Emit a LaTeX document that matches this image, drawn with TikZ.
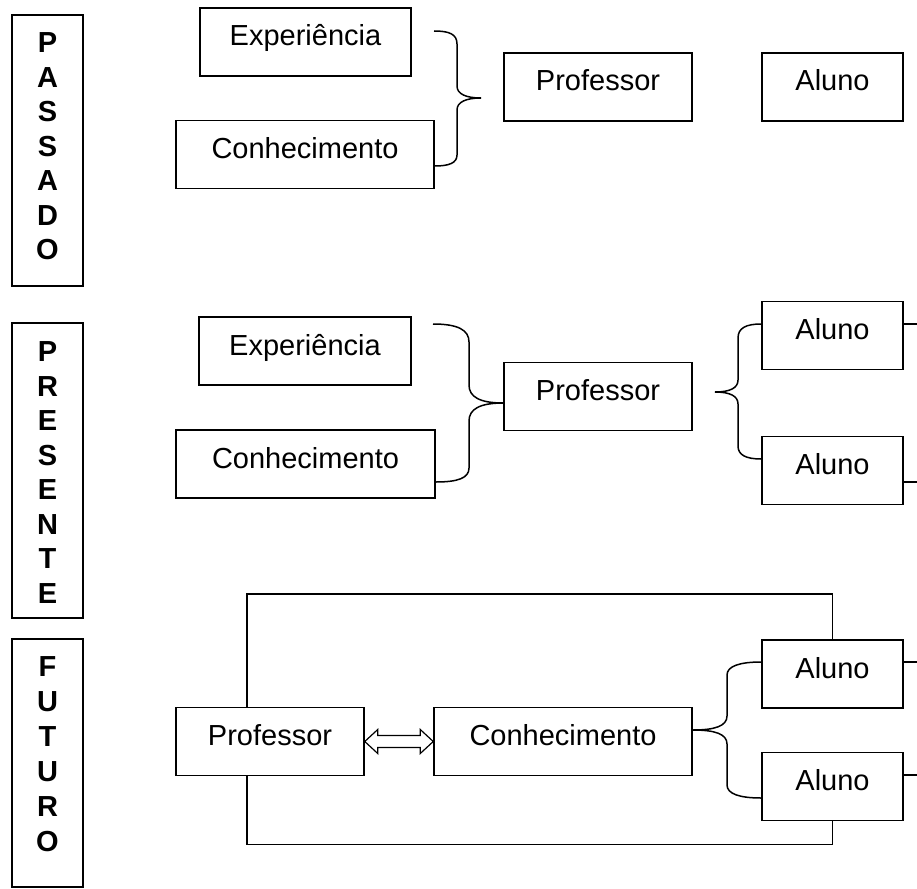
\documentclass[tikz,border=0pt]{standalone}
\usepackage{fontspec}
\setmainfont{Liberation Sans}

\begin{document}
\begin{tikzpicture}[x=1pt, y=-1pt, line width=1.5pt,
  caixa/.style={draw, inner sep=0pt, minimum height=68pt, text height=24pt, text depth=16pt, font=\fontsize{29}{35}\selectfont},
  tempo/.style={draw, inner sep=0pt, minimum width=71pt},
  letra/.style={inner sep=0pt, font=\fontsize{29}{35}\selectfont\bfseries}]
\useasboundingbox (0,0) rectangle (917,888);

\node[tempo, minimum height=271pt] (passado) at (47.5,150.5) {};
\node[tempo, minimum height=295pt] (presente) at (47.5,470.5) {};
\node[tempo, minimum height=248pt] (futuro) at (47.5,763) {};
\foreach \l [count=\i] in {P,A,S,S,A,D,O}
  \node[letra] (pas\i) at (47.5, 8.5+34.5*\i) {\l};
\foreach \l [count=\i] in {P,R,E,S,E,N,T,E}
  \node[letra] (pre\i) at (47.5, 317.5+34.5*\i) {\l};
\foreach \l [count=\i] in {F,U,T,U,R,O}
  \node[letra] (fut\i) at (47.5, 632+35*\i) {\l};

\node[caixa, minimum width=211pt] (exp1) at (305.5,42) {Experiência};
\node[caixa, minimum width=258pt] (con1) at (305,154.5) {Conhecimento};
\node[caixa, minimum width=188pt] (prof1) at (598,87) {Professor};
\node[caixa, minimum width=141pt] (alu1) at (832.5,87) {Aluno};
\coordinate (ch1) at (434,31);
\coordinate (pt1) at (481,98);
\draw (ch1) .. controls (449,31) and (457,34) .. (457,44) -- (457,86)
  .. controls (457,94) and (466,98) .. (pt1)
  .. controls (466,98) and (457,102) .. (457,110) -- (457,155)
  .. controls (457,163) and (449,166) .. ([yshift=-11.5pt]con1.east);

\node[caixa, minimum width=212pt] (exp2) at (305,351) {Experiência};
\node[caixa, minimum width=259pt] (con2) at (305.5,464) {Conhecimento};
\node[caixa, minimum width=188pt] (prof2) at (598,396.5) {Professor};
\node[caixa, minimum width=141pt] (alu2a) at (832.5,335.5) {Aluno};
\node[caixa, minimum width=141pt] (alu2b) at (832.5,470.5) {Aluno};
\coordinate (ch2) at (433,324);
\coordinate (pt2) at (715,392);
\coordinate (s2a) at (917,324);
\coordinate (s2b) at (917,482);
\draw (ch2) .. controls (458,324) and (469,330) .. (469,342) -- (469,385)
  .. controls (469,397) and (480,403) .. ([yshift=-6.5pt]prof2.west)
  .. controls (480,403) and (469,409) .. (469,421) -- (469,468)
  .. controls (469,478) and (458,482) .. ([yshift=-18pt]con2.east);
\draw ([yshift=11.5pt]alu2a.west) .. controls (746,324) and (738,328) .. (738,338) -- (738,380)
  .. controls (738,388) and (730,392) .. (pt2)
  .. controls (730,392) and (738,396) .. (738,404) -- (738,446)
  .. controls (738,455) and (746,459) .. ([yshift=11.5pt]alu2b.west);
\draw ([yshift=11.5pt]alu2a.east) -- (s2a);
\draw ([yshift=-11.5pt]alu2b.east) -- (s2b);

\node[caixa, minimum width=188pt] (prof3) at (270,741.5) {Professor};
\node[caixa, minimum width=258pt] (con3) at (563,741.5) {Conhecimento};
\node[caixa, minimum width=141pt] (alu3a) at (832.5,674) {Aluno};
\node[caixa, minimum width=141pt] (alu3b) at (832.5,786.5) {Aluno};
\coordinate (s3a) at (917,662);
\coordinate (s3b) at (917,775);
\draw[line width=1.2pt, fill=white] (prof3.east) -- ++(13,-12) -- ++(0,6)
  -- ([xshift=-13pt,yshift=6pt]con3.west) -- ++(0,-6) -- (con3.west)
  -- ++(-13,12) -- ++(0,-6) -- ([xshift=13pt,yshift=-6pt]prof3.east) -- ++(0,6) -- cycle;
\draw ([yshift=11.5pt]con3.east) .. controls (715,730) and (727,726) .. (727,716) -- (727,675)
  .. controls (727,666) and (740,662) .. ([yshift=12pt]alu3a.west);
\draw ([yshift=11.5pt]con3.east) .. controls (715,730) and (727,734) .. (727,744) -- (727,785)
  .. controls (727,794) and (740,798) .. ([yshift=-11.5pt]alu3b.west);
\draw ([yshift=12pt]alu3a.east) -- (s3a);
\draw ([yshift=11.5pt]alu3b.east) -- (s3b);
\draw ([xshift=-23pt]prof3.north) -- ++(0,-113) -| (alu3a.north);
\draw ([xshift=-23pt]prof3.south) -- ++(0,68) -| (alu3b.south);
\end{tikzpicture}
\end{document}
